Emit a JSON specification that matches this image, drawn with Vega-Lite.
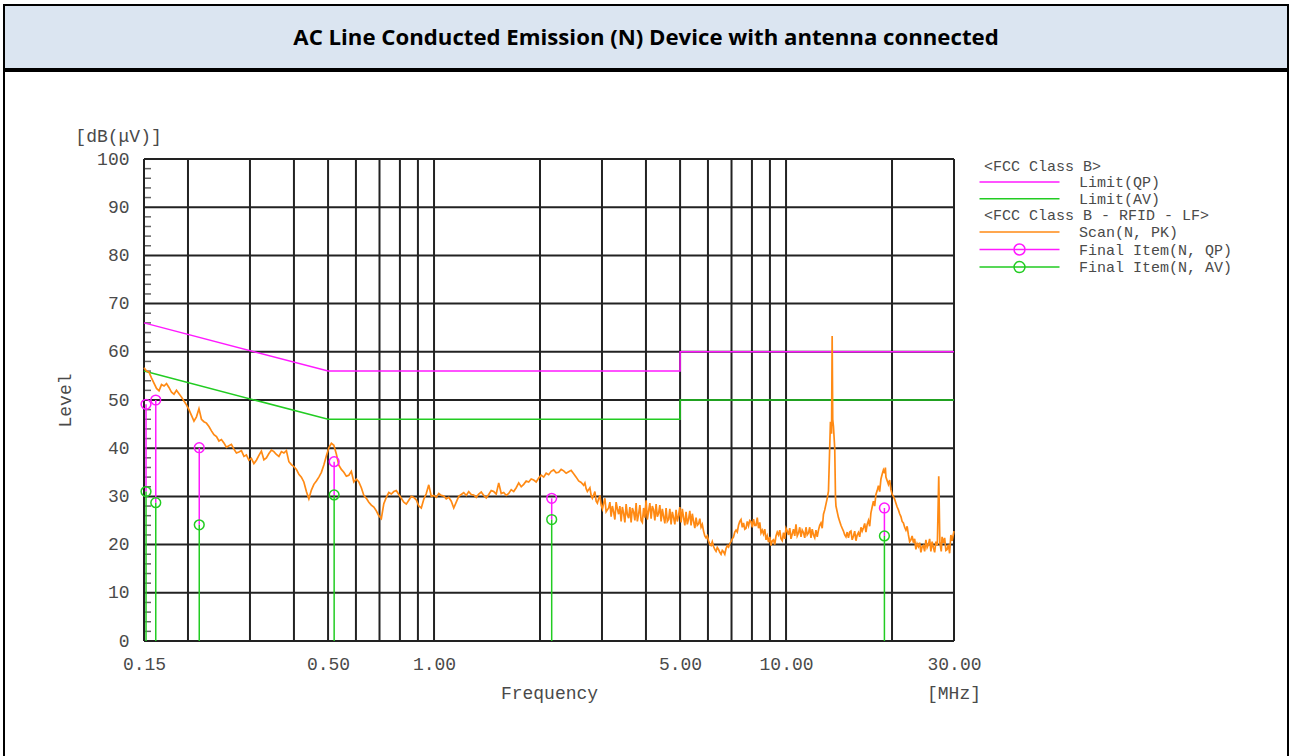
{
  "$schema": "https://vega.github.io/schema/vega-lite/v6.json",
  "padding": {"left": 3, "top": 4, "right": 0, "bottom": 0},
  "background": "white",
  "spacing": 0,
  "datasets": {
    "gridf": [{"f":0.15},{"f":0.2},{"f":0.3},{"f":0.4},{"f":0.5},{"f":0.6},{"f":0.7},{"f":0.8},{"f":0.9},{"f":1},{"f":2},{"f":3},{"f":4},{"f":5},{"f":6},{"f":7},{"f":8},{"f":9},{"f":10},{"f":20},{"f":30}],
    "gridv": [{"v":0},{"v":10},{"v":20},{"v":30},{"v":40},{"v":50},{"v":60},{"v":70},{"v":80},{"v":90},{"v":100}],
    "minor": [{"v":2},{"v":4},{"v":6},{"v":8},{"v":12},{"v":14},{"v":16},{"v":18},{"v":22},{"v":24},{"v":26},{"v":28},{"v":32},{"v":34},{"v":36},{"v":38},{"v":42},{"v":44},{"v":46},{"v":48},{"v":52},{"v":54},{"v":56},{"v":58},{"v":62},{"v":64},{"v":66},{"v":68},{"v":72},{"v":74},{"v":76},{"v":78},{"v":82},{"v":84},{"v":86},{"v":88},{"v":92},{"v":94},{"v":96},{"v":98}],
    "limits": [
      {"series":"Limit(QP)","pt":1,"f":0.15,"level":66},
      {"series":"Limit(QP)","pt":2,"f":0.5,"level":56},
      {"series":"Limit(QP)","pt":3,"f":5,"level":56},
      {"series":"Limit(QP)","pt":4,"f":5,"level":60},
      {"series":"Limit(QP)","pt":5,"f":30,"level":60},
      {"series":"Limit(AV)","pt":1,"f":0.15,"level":56},
      {"series":"Limit(AV)","pt":2,"f":0.5,"level":46},
      {"series":"Limit(AV)","pt":3,"f":5,"level":46},
      {"series":"Limit(AV)","pt":4,"f":5,"level":50},
      {"series":"Limit(AV)","pt":5,"f":30,"level":50}
    ],
    "finals": [
      {"f":0.152,"qp":49.1,"av":31.0},
      {"f":0.162,"qp":50.0,"av":28.7},
      {"f":0.2153,"qp":40.1,"av":24.1},
      {"f":0.5203,"qp":37.2,"av":30.3},
      {"f":2.159,"qp":29.6,"av":25.2},
      {"f":19.03,"qp":27.6,"av":21.8}
    ],
    "scan": [
      {"f":0.15,"level":56.7},{"f":0.1525,"level":56.0},{"f":0.155,"level":55.8},{"f":0.1575,"level":54.6},{"f":0.1601,"level":53.5},{"f":0.1628,"level":52.4},{"f":0.1655,"level":51.9},{"f":0.1682,"level":53.2},{"f":0.171,"level":52.9},{"f":0.1738,"level":53.4},
      {"f":0.1766,"level":52.6},{"f":0.1796,"level":51.6},{"f":0.1825,"level":51.2},{"f":0.1855,"level":52.0},{"f":0.1886,"level":51.3},{"f":0.1917,"level":50.6},{"f":0.1948,"level":49.8},{"f":0.198,"level":49.0},{"f":0.2013,"level":48.0},{"f":0.2046,"level":46.8},
      {"f":0.208,"level":45.6},{"f":0.2114,"level":46.5},{"f":0.2149,"level":48.2},{"f":0.2184,"level":46.0},{"f":0.222,"level":45.5},{"f":0.2257,"level":45.2},{"f":0.2294,"level":44.5},{"f":0.2332,"level":43.6},{"f":0.237,"level":42.8},{"f":0.241,"level":42.4},
      {"f":0.2449,"level":41.5},{"f":0.2489,"level":41.8},{"f":0.253,"level":41.1},{"f":0.2572,"level":40.2},{"f":0.2614,"level":40.5},{"f":0.2657,"level":40.8},{"f":0.2701,"level":39.8},{"f":0.2746,"level":39.0},{"f":0.2791,"level":39.2},{"f":0.2837,"level":39.5},
      {"f":0.2884,"level":38.3},{"f":0.2931,"level":38.6},{"f":0.2979,"level":37.5},{"f":0.3028,"level":37.9},{"f":0.3078,"level":36.8},{"f":0.3129,"level":37.5},{"f":0.3181,"level":38.5},{"f":0.3233,"level":39.4},{"f":0.3286,"level":37.6},{"f":0.334,"level":38.0},
      {"f":0.3396,"level":38.9},{"f":0.3452,"level":39.6},{"f":0.3508,"level":39.3},{"f":0.3566,"level":38.7},{"f":0.3625,"level":38.3},{"f":0.3685,"level":39.3},{"f":0.3745,"level":39.0},{"f":0.3807,"level":39.5},{"f":0.387,"level":37.2},{"f":0.3934,"level":36.6},
      {"f":0.3998,"level":36.2},{"f":0.4064,"level":35.6},{"f":0.4131,"level":34.6},{"f":0.4199,"level":34.0},{"f":0.4268,"level":33.0},{"f":0.4339,"level":31.0},{"f":0.441,"level":29.5},{"f":0.4483,"level":31.3},{"f":0.4557,"level":32.5},{"f":0.4632,"level":33.2},
      {"f":0.4708,"level":34.0},{"f":0.4786,"level":35.0},{"f":0.4864,"level":36.5},{"f":0.4944,"level":38.4},{"f":0.5026,"level":40.1},{"f":0.5109,"level":41.0},{"f":0.5193,"level":40.6},{"f":0.5278,"level":38.8},{"f":0.5365,"level":36.5},{"f":0.5454,"level":35.6},
      {"f":0.5544,"level":35.0},{"f":0.5635,"level":34.2},{"f":0.5728,"level":34.4},{"f":0.5822,"level":35.2},{"f":0.5918,"level":33.0},{"f":0.6016,"level":33.6},{"f":0.6115,"level":33.0},{"f":0.6216,"level":31.8},{"f":0.6318,"level":30.2},{"f":0.6422,"level":29.6},
      {"f":0.6528,"level":28.8},{"f":0.6635,"level":28.2},{"f":0.6745,"level":27.8},{"f":0.6856,"level":27.0},{"f":0.6969,"level":26.0},{"f":0.7084,"level":25.4},{"f":0.72,"level":28.5},{"f":0.7319,"level":29.8},{"f":0.7439,"level":30.8},{"f":0.7562,"level":30.5},
      {"f":0.7686,"level":31.0},{"f":0.7813,"level":31.2},{"f":0.7942,"level":30.4},{"f":0.8073,"level":29.6},{"f":0.8206,"level":28.8},{"f":0.8341,"level":28.4},{"f":0.8478,"level":29.2},{"f":0.8618,"level":30.0},{"f":0.876,"level":29.8},{"f":0.8904,"level":29.3},
      {"f":0.9051,"level":28.0},{"f":0.92,"level":27.6},{"f":0.9351,"level":29.4},{"f":0.9506,"level":30.6},{"f":0.9662,"level":32.4},{"f":0.9821,"level":30.0},{"f":0.9983,"level":30.2},{"f":1.0148,"level":29.8},{"f":1.0315,"level":30.6},{"f":1.0485,"level":30.2},
      {"f":1.0657,"level":30.1},{"f":1.0833,"level":29.5},{"f":1.1011,"level":29.8},{"f":1.1193,"level":29.0},{"f":1.1377,"level":27.6},{"f":1.1565,"level":28.8},{"f":1.1755,"level":30.0},{"f":1.1949,"level":30.4},{"f":1.2146,"level":30.8},{"f":1.2346,"level":30.2},
      {"f":1.2549,"level":31.0},{"f":1.2756,"level":30.4},{"f":1.2966,"level":30.3},{"f":1.318,"level":29.8},{"f":1.3397,"level":30.5},{"f":1.3618,"level":30.9},{"f":1.3842,"level":30.2},{"f":1.407,"level":29.7},{"f":1.4302,"level":30.4},{"f":1.4538,"level":31.2},
      {"f":1.4777,"level":31.0},{"f":1.502,"level":30.5},{"f":1.5268,"level":32.8},{"f":1.5519,"level":30.6},{"f":1.5775,"level":30.8},{"f":1.6035,"level":30.2},{"f":1.6299,"level":30.6},{"f":1.6568,"level":31.4},{"f":1.684,"level":31.0},{"f":1.7118,"level":31.8},
      {"f":1.74,"level":32.8},{"f":1.7687,"level":32.0},{"f":1.7978,"level":32.5},{"f":1.8274,"level":33.2},{"f":1.8575,"level":33.0},{"f":1.8881,"level":33.6},{"f":1.9192,"level":33.4},{"f":1.9508,"level":33.0},{"f":1.983,"level":33.8},{"f":2.0157,"level":34.4},
      {"f":2.0488,"level":34.0},{"f":2.0826,"level":34.8},{"f":2.1169,"level":34.5},{"f":2.1518,"level":35.2},{"f":2.1872,"level":35.5},{"f":2.2233,"level":34.9},{"f":2.2599,"level":35.0},{"f":2.2971,"level":35.6},{"f":2.335,"level":35.3},{"f":2.3734,"level":34.8},
      {"f":2.4125,"level":35.1},{"f":2.4523,"level":35.4},{"f":2.4927,"level":34.7},{"f":2.5338,"level":34.0},{"f":2.5755,"level":33.2},{"f":2.6179,"level":32.9},{"f":2.661,"level":32.3},{"f":2.7049,"level":31.6},{"f":2.7494,"level":31.4},{"f":2.7947,"level":30.2},
      {"f":2.8408,"level":30.3},{"f":2.8876,"level":29.0},{"f":2.9351,"level":29.5},{"f":2.9835,"level":28.2},{"f":3.0326,"level":28.6},{"f":3.0826,"level":26.8},{"f":3.1334,"level":27.6},{"f":3.185,"level":25.8},{"f":3.2375,"level":26.8},{"f":3.2908,"level":28.8},
      {"f":3.345,"level":26.3},{"f":3.4001,"level":24.8},{"f":3.4562,"level":26.5},{"f":3.5131,"level":28.4},{"f":3.571,"level":25.5},{"f":3.6298,"level":24.6},{"f":3.6896,"level":26.8},{"f":3.7504,"level":28.6},{"f":3.8122,"level":26.3},{"f":3.875,"level":25.0},
      {"f":3.9388,"level":27.6},{"f":4.0037,"level":29.2},{"f":4.0697,"level":27.0},{"f":4.1367,"level":25.4},{"f":4.2049,"level":27.2},{"f":4.2741,"level":28.4},{"f":4.3445,"level":26.5},{"f":4.4161,"level":24.8},{"f":4.4889,"level":25.8},{"f":4.5628,"level":27.6},
      {"f":4.638,"level":25.2},{"f":4.7144,"level":24.2},{"f":4.7921,"level":25.6},{"f":4.871,"level":27.2},{"f":4.9513,"level":26.0},{"f":5.0329,"level":24.6},{"f":5.1158,"level":25.6},{"f":5.2001,"level":26.8},{"f":5.2857,"level":25.3},{"f":5.3728,"level":24.0},
      {"f":5.4613,"level":24.8},{"f":5.5513,"level":25.6},{"f":5.6427,"level":24.3},{"f":5.7357,"level":23.6},{"f":5.8302,"level":22.8},{"f":5.9262,"level":21.4},{"f":6.0239,"level":20.8},{"f":6.1231,"level":19.8},{"f":6.224,"level":19.6},{"f":6.3265,"level":18.6},
      {"f":6.4307,"level":19.0},{"f":6.5367,"level":18.0},{"f":6.6444,"level":18.5},{"f":6.7538,"level":19.2},{"f":6.8651,"level":19.5},{"f":6.9782,"level":20.6},{"f":7.0932,"level":21.6},{"f":7.21,"level":23.0},{"f":7.3288,"level":24.0},{"f":7.4495,"level":25.2},
      {"f":7.5723,"level":24.5},{"f":7.697,"level":23.4},{"f":7.8238,"level":23.9},{"f":7.9527,"level":24.8},{"f":8.0837,"level":25.3},{"f":8.2169,"level":24.0},{"f":8.3523,"level":23.4},{"f":8.4899,"level":22.4},{"f":8.6297,"level":22.2},{"f":8.7719,"level":21.0},
      {"f":8.9164,"level":20.5},{"f":9.0633,"level":19.8},{"f":9.2126,"level":21.0},{"f":9.3644,"level":21.8},{"f":9.5187,"level":22.0},{"f":9.6755,"level":21.2},{"f":9.8349,"level":22.5},{"f":9.9969,"level":23.4},{"f":10.162,"level":22.0},{"f":10.329,"level":21.2},
      {"f":10.499,"level":23.2},{"f":10.672,"level":24.2},{"f":10.848,"level":22.4},{"f":11.027,"level":21.6},{"f":11.208,"level":22.5},{"f":11.393,"level":23.6},{"f":11.581,"level":22.4},{"f":11.772,"level":21.4},{"f":11.965,"level":22.0},{"f":12.162,"level":23.0},
      {"f":12.363,"level":23.0},{"f":12.567,"level":24.5},{"f":12.774,"level":26.3},{"f":12.984,"level":28.4},{"f":13.198,"level":31.1},{"f":13.37,"level":45.5},{"f":13.47,"level":43.0},{"f":13.52,"level":63.3},{"f":13.57,"level":46.0},{"f":13.636,"level":44.5},
      {"f":13.75,"level":40.0},{"f":13.82,"level":29.7},{"f":13.861,"level":28.0},{"f":14.089,"level":25.6},{"f":14.322,"level":24.0},{"f":14.558,"level":22.8},{"f":14.798,"level":21.6},{"f":15.041,"level":21.4},{"f":15.289,"level":22.8},{"f":15.541,"level":21.8},
      {"f":15.797,"level":20.8},{"f":16.057,"level":22.5},{"f":16.322,"level":23.6},{"f":16.591,"level":23.5},{"f":16.864,"level":22.6},{"f":17.142,"level":25.0},{"f":17.424,"level":26.6},{"f":17.711,"level":29.0},{"f":18.003,"level":30.4},{"f":18.3,"level":32.2},
      {"f":18.601,"level":33.6},{"f":18.907,"level":35.5},{"f":19.15,"level":36.0},{"f":19.218,"level":34.0},{"f":19.536,"level":32.5},{"f":19.858,"level":31.4},{"f":20.185,"level":30.0},{"f":20.517,"level":28.6},{"f":20.855,"level":27.2},{"f":21.199,"level":25.8},
      {"f":21.548,"level":24.5},{"f":21.903,"level":23.0},{"f":22.264,"level":22.0},{"f":22.63,"level":21.0},{"f":23.003,"level":20.4},{"f":23.382,"level":19.0},{"f":23.768,"level":19.6},{"f":24.159,"level":18.4},{"f":24.557,"level":19.8},{"f":24.962,"level":21.0},
      {"f":25.373,"level":20.0},{"f":25.791,"level":18.6},{"f":26.216,"level":19.4},{"f":26.648,"level":20.6},{"f":26.9,"level":19.8},{"f":27.15,"level":34.2},{"f":27.35,"level":20.4},{"f":27.987,"level":20.4},{"f":28.448,"level":18.8},{"f":28.916,"level":20.0},
      {"f":29.39,"level":22.0},{"f":30.0,"level":22.8},
      {"f":2.6828,"level":32.8},{"f":2.7267,"level":31.0},{"f":2.7719,"level":31.8},{"f":2.8173,"level":29.6},{"f":2.8641,"level":31.0},{"f":2.911,"level":28.6},{"f":2.9592,"level":30.2},{"f":3.0076,"level":27.4},
      {"f":3.0575,"level":29.6},{"f":3.1075,"level":27.2},{"f":3.1591,"level":28.8},{"f":3.2108,"level":28.0},{"f":3.264,"level":25.2},{"f":3.3175,"level":27.4},{"f":3.3724,"level":28.0},{"f":3.4276,"level":27.8},
      {"f":3.4845,"level":24.6},{"f":3.5416,"level":26.2},{"f":3.6003,"level":27.8},{"f":3.6592,"level":27.6},{"f":3.7199,"level":25.0},{"f":3.7807,"level":24.8},{"f":3.8435,"level":28.2},{"f":3.9064,"level":24.6},
      {"f":3.9711,"level":25.6},{"f":4.0361,"level":25.2},{"f":4.1031,"level":28.6},{"f":4.1702,"level":28.0},{"f":4.2394,"level":25.0},{"f":4.3088,"level":25.8},{"f":4.3801,"level":28.2},{"f":4.4518,"level":27.4},
      {"f":4.5257,"level":24.4},{"f":4.5998,"level":24.8},{"f":4.676,"level":27.4},{"f":4.7526,"level":26.8},{"f":4.8314,"level":24.2},{"f":4.9105,"level":24.8},{"f":4.9919,"level":27.8},{"f":5.0736,"level":27.4},
      {"f":5.1577,"level":24.0},{"f":5.2422,"level":24.2},{"f":5.329,"level":27.0},{"f":5.4163,"level":26.4},{"f":5.5061,"level":23.4},{"f":5.5962,"level":24.0},{"f":5.689,"level":25.4},{"f":5.7822,"level":24.2},
      {"f":5.878,"level":21.8},{"f":5.9742,"level":21.8},{"f":6.0733,"level":20.0},{"f":6.1727,"level":20.6},{"f":6.275,"level":19.0},{"f":6.3777,"level":19.4},{"f":6.4834,"level":18.4},{"f":6.5896,"level":18.8},
      {"f":6.6989,"level":18.0},{"f":6.8085,"level":19.8},{"f":6.9214,"level":20.2},{"f":7.0347,"level":21.2},{"f":7.1514,"level":22.6},{"f":7.2685,"level":22.6},{"f":7.3889,"level":24.8},{"f":7.5099,"level":23.6},
      {"f":7.6344,"level":23.2},{"f":7.7594,"level":24.8},{"f":7.888,"level":25.0},{"f":8.0171,"level":23.6},{"f":8.15,"level":24.0},{"f":8.2834,"level":25.6},{"f":8.4208,"level":24.6},{"f":8.5586,"level":23.0},
      {"f":8.7005,"level":23.2},{"f":8.8429,"level":21.8},{"f":8.9895,"level":21.6},{"f":9.1366,"level":20.8},{"f":9.2881,"level":20.0},{"f":9.4402,"level":22.6},{"f":9.5968,"level":23.0},{"f":9.7539,"level":20.8},
      {"f":9.9155,"level":21.2},{"f":10.078,"level":22.8},{"f":10.245,"level":23.4},{"f":10.413,"level":22.2},{"f":10.585,"level":21.8},{"f":10.759,"level":21.8},{"f":10.937,"level":23.6},{"f":11.116,"level":23.0},
      {"f":11.3,"level":21.4},{"f":11.485,"level":22.0},{"f":11.676,"level":23.6},{"f":11.867,"level":23.2},{"f":12.063,"level":21.4},{"f":12.261,"level":21.6},{"f":12.464,"level":24.0},{"f":12.668,"level":23.4},
      {"f":12.879,"level":27.2},{"f":13.09,"level":29.6},
      {"f":14.205,"level":24.8},{"f":14.437,"level":23.4},{"f":14.677,"level":22.0},{"f":14.917,"level":22.6},{"f":15.164,"level":22.6},{"f":15.413,"level":21.0},{"f":15.668,"level":22.8},{"f":15.925,"level":22.0},
      {"f":16.189,"level":21.6},{"f":16.454,"level":22.8},{"f":16.727,"level":24.4},{"f":17.001,"level":24.2},{"f":17.283,"level":23.8},{"f":17.565,"level":27.8},{"f":17.856,"level":28.0},{"f":18.149,"level":31.2},
      {"f":18.45,"level":31.0},{"f":18.752,"level":34.6},{"f":19.062,"level":34.8},{"f":19.696,"level":33.4},{"f":20.019,"level":30.4},{"f":20.351,"level":29.4},{"f":20.684,"level":27.8},{"f":21.026,"level":26.4},
      {"f":21.37,"level":24.8},{"f":21.725,"level":23.6},{"f":22.08,"level":23.8},{"f":22.447,"level":20.6},{"f":22.814,"level":21.8},{"f":23.192,"level":21.2},{"f":23.571,"level":20.2},{"f":23.963,"level":20.4},
      {"f":24.355,"level":19.6},{"f":24.758,"level":18.6},{"f":25.166,"level":19.4},{"f":25.581,"level":21.2},{"f":26.0,"level":20.6},{"f":26.431,"level":18.4},{"f":27.6,"level":18.6},{"f":27.75,"level":21.6},
      {"f":28.217,"level":21.4},{"f":28.678,"level":19.0},{"f":29.153,"level":18.2},{"f":29.631,"level":20.8}
    ]
  },
  "vconcat": [
    {
      "width": 1284,
      "height": 64,
      "view": {"fill": "#dbe5f1", "stroke": "#000000", "strokeWidth": 2},
      "data": {"values": [{"t": "AC Line Conducted Emission (N) Device with antenna connected"}]},
      "mark": {"type": "text", "font": "Open Sans", "fontWeight": "bold", "fontSize": 22.2, "color": "#000000", "dy": 1},
      "encoding": {"text": {"field": "t"}}
    },
    {
      "width": 1284,
      "height": 700,
      "view": {"fill": "white", "stroke": "#000000", "strokeWidth": 2},
      "layer": [
        {
          "data": {"name": "gridf"},
          "mark": {"type": "rule", "color": "#222222", "strokeWidth": 2},
          "encoding": {
            "x": {"field": "f", "type": "quantitative", "scale": {"type": "log", "domain": [0.15, 30], "range": [140, 950]},
              "axis": {"values": [0.15, 0.5, 1, 5, 10, 30], "format": ".2f", "offset": -130, "ticks": false, "domain": false, "grid": false,
                "labelPadding": 14, "labelFont": "Liberation Mono", "labelFontSize": 18, "labelColor": "#4a4a4a", "labelFlush": false, "labelOverlap": false,
                "title": "Frequency", "titleFont": "Liberation Mono", "titleFontSize": 18, "titleFontWeight": "normal", "titleColor": "#4a4a4a", "titlePadding": 11}},
            "y": {"datum": 0, "type": "quantitative", "scale": {"domain": [0, 100], "range": [570, 88], "nice": false, "zero": false}},
            "y2": {"datum": 100}
          }
        },
        {
          "data": {"name": "gridv"},
          "mark": {"type": "rule", "color": "#222222", "strokeWidth": 2},
          "encoding": {
            "y": {"field": "v", "type": "quantitative", "scale": {"domain": [0, 100], "range": [570, 88], "nice": false, "zero": false},
              "axis": {"values": [0, 10, 20, 30, 40, 50, 60, 70, 80, 90, 100], "offset": -140, "ticks": false, "domain": false, "grid": false,
                "labelPadding": 15, "labelFont": "Liberation Mono", "labelFontSize": 18, "labelColor": "#4a4a4a",
                "title": "Level", "titleFont": "Liberation Mono", "titleFontSize": 18, "titleFontWeight": "normal", "titleColor": "#4a4a4a", "titlePadding": 22}},
            "x": {"datum": 0.15, "type": "quantitative", "scale": {"type": "log", "domain": [0.15, 30], "range": [140, 950]}},
            "x2": {"datum": 30}
          }
        },
        {
          "data": {"name": "minor"},
          "mark": {"type": "tick", "orient": "horizontal", "size": 7, "thickness": 1.5, "xOffset": 3.5, "color": "#222222"},
          "encoding": {
            "y": {"field": "v", "type": "quantitative", "scale": {"domain": [0, 100], "range": [570, 88], "nice": false, "zero": false}},
            "x": {"datum": 0.15, "type": "quantitative", "scale": {"type": "log", "domain": [0.15, 30], "range": [140, 950]}}
          }
        },
        {
          "data": {"name": "limits"},
          "mark": {"type": "line", "strokeWidth": 1.5},
          "encoding": {
            "x": {"field": "f", "type": "quantitative", "scale": {"type": "log", "domain": [0.15, 30], "range": [140, 950]}},
            "y": {"field": "level", "type": "quantitative", "scale": {"domain": [0, 100], "range": [570, 88], "nice": false, "zero": false}},
            "order": {"field": "pt", "type": "quantitative"},
            "color": {"field": "series", "type": "nominal",
              "scale": {"domain": ["<FCC Class B>", "Limit(QP)", "Limit(AV)", "<FCC Class B - RFID - LF>", "Scan(N, PK)", "Final Item(N, QP)", "Final Item(N, AV)"],
                        "range": ["transparent", "#ff1aff", "#22cc22", "transparent", "#ff8a14", "#ff1aff", "#22cc22"]},
              "legend": {"title": null, "orient": "none", "legendX": 1008, "legendY": 153, "direction": "vertical",
                "symbolSize": 100, "symbolStrokeWidth": 1.5, "rowPadding": 0.6, "labelOffset": 52,
                "labelFont": "Liberation Mono", "labelFontSize": 15, "labelColor": "#4a4a4a", "labelLimit": 400,
                "encode": {
                  "symbols": {"update": {
                    "shape": {"signal": "indexof(datum.label, 'Final') == 0 ? 'M-8,0L8,0M-1.1,0A1.1,1.1 0 1 0 1.1,0A1.1,1.1 0 1 0 -1.1,0' : 'M-8,0L8,0'"},
                    "stroke": {"scale": "color", "field": "value"},
                    "fill": {"value": "transparent"},
                    "strokeWidth": {"value": 1.5},
                    "opacity": {"value": 1}}},
                  "labels": {"update": {"dx": {"signal": "indexof(datum.label, '<') == 0 ? -95 : 0"}}}
                }}}
          }
        },
        {
          "data": {"name": "scan"},
          "mark": {"type": "line", "strokeWidth": 1.7, "color": "#ff8a14"},
          "encoding": {
            "x": {"field": "f", "type": "quantitative", "scale": {"type": "log", "domain": [0.15, 30], "range": [140, 950]}},
            "y": {"field": "level", "type": "quantitative", "scale": {"domain": [0, 100], "range": [570, 88], "nice": false, "zero": false}}
          }
        },
        {
          "data": {"name": "finals"},
          "mark": {"type": "rule", "strokeWidth": 1.5, "color": "#ff1aff"},
          "encoding": {
            "x": {"field": "f", "type": "quantitative", "scale": {"type": "log", "domain": [0.15, 30], "range": [140, 950]}},
            "y": {"field": "qp", "type": "quantitative", "scale": {"domain": [0, 100], "range": [570, 88], "nice": false, "zero": false}},
            "y2": {"field": "av"}
          }
        },
        {
          "data": {"name": "finals"},
          "mark": {"type": "rule", "strokeWidth": 1.5, "color": "#22cc22"},
          "encoding": {
            "x": {"field": "f", "type": "quantitative", "scale": {"type": "log", "domain": [0.15, 30], "range": [140, 950]}},
            "y": {"field": "av", "type": "quantitative", "scale": {"domain": [0, 100], "range": [570, 88], "nice": false, "zero": false}},
            "y2": {"datum": 0}
          }
        },
        {
          "data": {"name": "finals"},
          "mark": {"type": "point", "shape": "circle", "filled": false, "size": 95, "strokeWidth": 1.5, "color": "#ff1aff", "opacity": 1},
          "encoding": {
            "x": {"field": "f", "type": "quantitative", "scale": {"type": "log", "domain": [0.15, 30], "range": [140, 950]}},
            "y": {"field": "qp", "type": "quantitative", "scale": {"domain": [0, 100], "range": [570, 88], "nice": false, "zero": false}}
          }
        },
        {
          "data": {"name": "finals"},
          "mark": {"type": "point", "shape": "circle", "filled": false, "size": 95, "strokeWidth": 1.5, "color": "#22cc22", "opacity": 1},
          "encoding": {
            "x": {"field": "f", "type": "quantitative", "scale": {"type": "log", "domain": [0.15, 30], "range": [140, 950]}},
            "y": {"field": "av", "type": "quantitative", "scale": {"domain": [0, 100], "range": [570, 88], "nice": false, "zero": false}}
          }
        },
        {
          "data": {"values": [{"t": "[MHz]"}]},
          "mark": {"type": "text", "font": "Liberation Mono", "fontSize": 18, "color": "#4a4a4a", "align": "center", "baseline": "middle"},
          "encoding": {
            "text": {"field": "t"},
            "x": {"datum": 30, "type": "quantitative", "scale": {"type": "log", "domain": [0.15, 30], "range": [140, 950]}},
            "y": {"datum": -11, "type": "quantitative", "scale": {"domain": [0, 100], "range": [570, 88], "nice": false, "zero": false}}
          }
        },
        {
          "data": {"values": [{"t": "[dB(μV)]"}]},
          "mark": {"type": "text", "font": "Liberation Mono", "fontSize": 18, "color": "#4a4a4a", "align": "center", "baseline": "middle"},
          "encoding": {
            "text": {"field": "t"},
            "x": {"datum": 0.127, "type": "quantitative", "scale": {"type": "log", "domain": [0.15, 30], "range": [140, 950]}},
            "y": {"datum": 104.6, "type": "quantitative", "scale": {"domain": [0, 100], "range": [570, 88], "nice": false, "zero": false}}
          }
        }
      ]
    }
  ]
}
